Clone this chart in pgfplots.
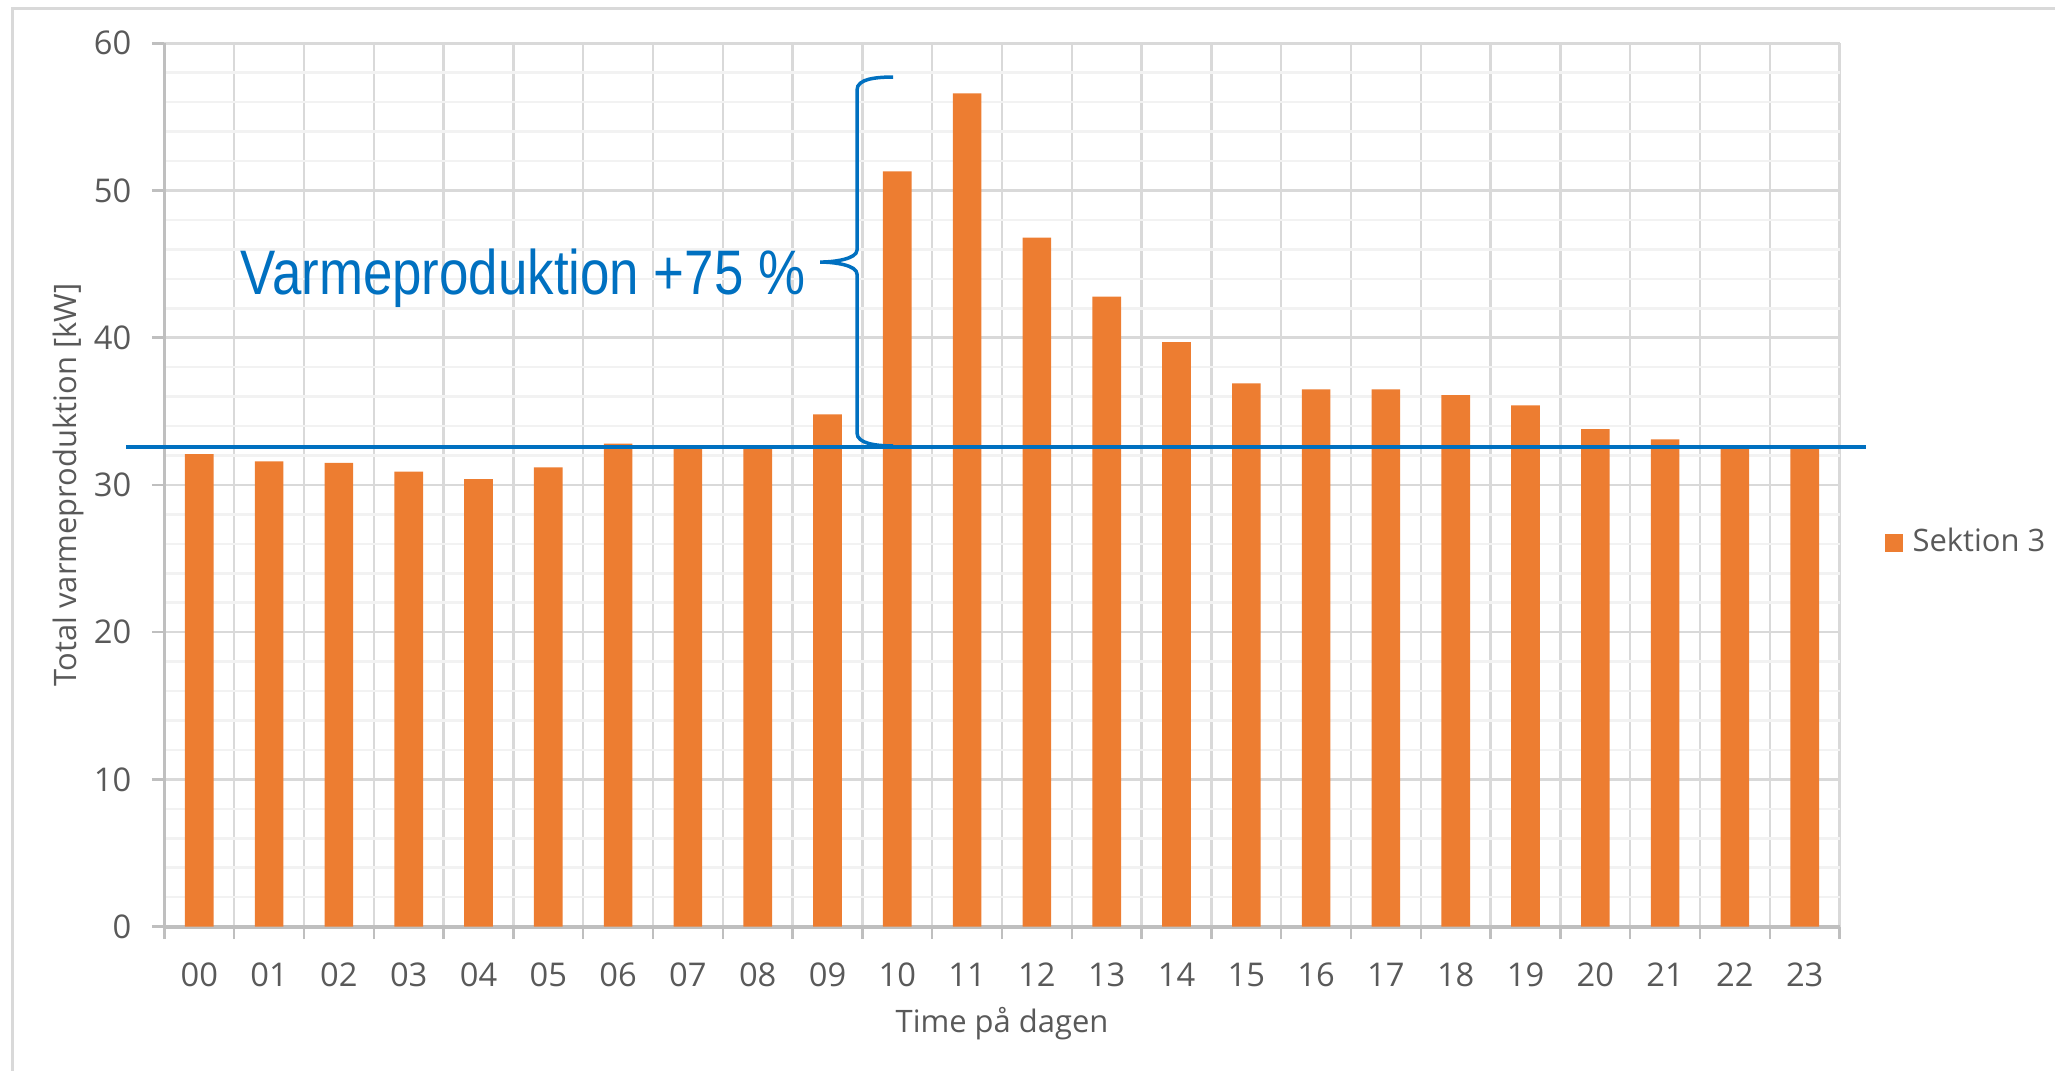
\documentclass[border=0pt]{standalone}
\usepackage{pgfplots}
\pgfplotsset{compat=1.18}
\usepackage{fontspec}
\setmainfont{Open Sans}
\newfontfamily\annfont[FakeStretch=0.84]{Liberation Sans}

\definecolor{barorange}{HTML}{ED7D31}
\definecolor{refblue}{HTML}{0070C0}
\definecolor{gridmajor}{HTML}{D9D9D9}
\definecolor{gridminor}{HTML}{F2F2F2}
\definecolor{axisgray}{HTML}{BFBFBF}
\definecolor{textgray}{HTML}{595959}

\begin{document}
\begin{tikzpicture}
% page frame
\useasboundingbox (0,0) rectangle (205.5mm,107.1mm);
\draw[gridmajor, line width=0.3mm] (1.2mm,0mm) -- (1.2mm,106.2mm) -- (205.5mm,106.2mm);

\begin{axis}[
  at={(16.44mm,14.44mm)}, anchor=south west,
  scale only axis, width=167.52mm, height=88.33mm,
  xmin=-0.5, xmax=23.5, ymin=0, ymax=60,
  clip=false,
  axis lines*=left,
  x axis line style={axisgray, line width=0.4mm},
  y axis line style={axisgray, line width=0.3mm},
  tick align=outside,
  major tick length=1.25mm,
  tick style={axisgray, line width=0.25mm},
  % category boundaries carry the vertical grid
  xtick={-0.5,0.5,...,23.5},
  xticklabels={},
  extra x ticks={0,1,...,23},
  extra x tick labels={00,01,02,03,04,05,06,07,08,09,10,11,12,13,14,15,16,17,18,19,20,21,22,23},
  extra x tick style={grid=none, major tick length=0pt,
    tick label style={yshift=-3.58mm}},
  ytick={0,10,...,60},
  minor y tick num=4,
  minor tick length=0pt,
  xmajorgrids, ymajorgrids, yminorgrids,
  major grid style={gridmajor, line width=0.25mm},
  minor grid style={gridminor, line width=0.25mm},
  /pgf/number format/assume math mode=true,
  tick label style={font=\fontsize{9.3}{11}\selectfont, text=textgray, inner sep=0pt},
  yticklabel style={xshift=-2.0mm},
  xlabel={Time på dagen},
  ylabel={Total varmeproduktion [kW]},
  label style={font=\fontsize{8.8}{10.5}\selectfont, text=textgray},
  xlabel style={at={(axis description cs:0.5,-0.1103)}, anchor=center},
  ylabel style={at={(axis description cs:-0.05755,0.5)}, anchor=center},
  legend style={at={(1,0.4347)}, anchor=west, xshift=4.5mm,
    draw=none, fill=none, inner sep=0pt, outer sep=0pt,
    font=\fontsize{8.8}{10.5}\selectfont, text=textgray,
    nodes={inner sep=0pt}, column sep=1mm},
  legend image code/.code={\fill[barorange] (0mm,-0.9mm) rectangle (1.8mm,0.9mm);},
]
\addplot[ybar, bar width=0.41, fill=barorange, draw=none] coordinates {
  (0,32.1) (1,31.6) (2,31.5) (3,30.9) (4,30.4) (5,31.2)
  (6,32.8) (7,32.6) (8,32.7) (9,34.8) (10,51.3) (11,56.6)
  (12,46.8) (13,42.8) (14,39.7) (15,36.9) (16,36.5) (17,36.5)
  (18,36.1) (19,35.4) (20,33.8) (21,33.1) (22,32.5) (23,32.5)
};
\addlegendentry{Sektion 3}

% reference level
\addplot[refblue, line width=0.4mm, forget plot] coordinates {(-1.05,32.6) (23.88,32.6)};

% brace marking the rise
\draw[refblue, line width=0.35mm]
  (axis cs:9.939,57.71) .. controls (axis cs:9.70,57.70) and (axis cs:9.423,57.60) .. (axis cs:9.423,56.83)
  -- (axis cs:9.423,45.96) .. controls (axis cs:9.423,45.35) and (axis cs:9.10,45.14) .. (axis cs:8.893,45.14)
  .. controls (axis cs:9.10,45.14) and (axis cs:9.423,44.93) .. (axis cs:9.423,44.32)
  -- (axis cs:9.423,33.53) .. controls (axis cs:9.423,32.80) and (axis cs:9.70,32.65) .. (axis cs:9.939,32.65);

\node[anchor=base east, inner sep=0pt, text=refblue,
  font=\annfont\fontsize{17.9}{20}\selectfont] at (axis cs:8.693,42.97) {Varmeproduktion +75 \%};
\end{axis}
\end{tikzpicture}
\end{document}
